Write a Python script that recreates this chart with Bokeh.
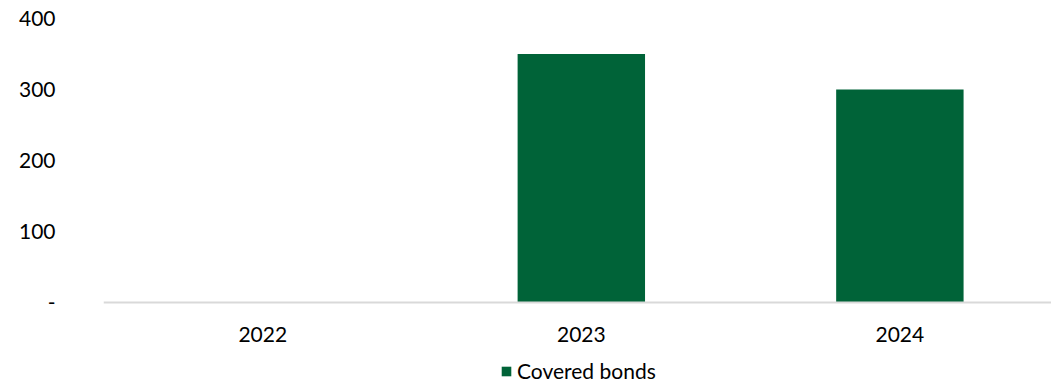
from bokeh.plotting import figure
from bokeh.models import Range1d, FixedTicker, Legend, LegendItem, ColumnDataSource
from bokeh.embed import file_html
from bokeh.resources import INLINE

years = ["2022", "2023", "2024"]
covered_bonds = [0, 350, 300]
y_ticks = [0, 100, 200, 300, 400]

FONT = "Lato"
GREEN = "#006338"

xpos = [i + 0.5 for i in range(len(years))]
src = ColumnDataSource(dict(x=xpos, top=covered_bonds))

p = figure(width=1051, height=384, output_backend="svg", toolbar_location=None,
           x_range=Range1d(0, 2.976), y_range=Range1d(-114.6, 400),
           min_border_left=103, min_border_right=0, min_border_top=18,
           min_border_bottom=0, x_axis_location=None)
p.outline_line_color = None
p.grid.grid_line_color = None
p.background_fill_color = "white"

r = p.vbar(x="x", top="top", width=0.4, bottom=0, source=src, fill_color=GREEN, line_color=None)

# y axis
p.yaxis.ticker = FixedTicker(ticks=y_ticks)
p.yaxis.major_label_overrides = {0: "-"}
p.yaxis.axis_line_color = None
p.yaxis.major_tick_line_color = None
p.yaxis.minor_tick_line_color = None
p.yaxis.major_label_standoff = 42
p.yaxis.major_label_text_font = FONT
p.yaxis.major_label_text_font_size = "21px"
p.yaxis.major_label_text_color = "#000000"

# x axis drawn at y = 0 inside the frame
from bokeh.models import LinearAxis
xaxis = LinearAxis(fixed_location=0)
xaxis.ticker = FixedTicker(ticks=xpos)
xaxis.major_label_overrides = {x: y for x, y in zip(xpos, years)}
xaxis.axis_line_color = "#d9d9d9"
xaxis.axis_line_width = 2
xaxis.major_tick_line_color = None
xaxis.minor_tick_line_color = None
xaxis.major_tick_out = 0
xaxis.major_tick_in = 0
xaxis.major_label_standoff = 24
xaxis.major_label_text_font = FONT
xaxis.major_label_text_font_size = "21px"
xaxis.major_label_text_color = "#000000"
p.add_layout(xaxis, "below")

legend = Legend(items=[LegendItem(label="Covered bonds", renderers=[r])],
                orientation="horizontal", location=(397, 1),
                border_line_color=None, background_fill_alpha=0,
                label_text_font=FONT, label_text_font_size="21px",
                label_text_color="#000000", label_height=18,
                glyph_width=12, glyph_height=12, label_standoff=5,
                padding=0, margin=0, spacing=0)
p.add_layout(legend, "center")

open("out.html", "w").write(file_html(p, INLINE))
